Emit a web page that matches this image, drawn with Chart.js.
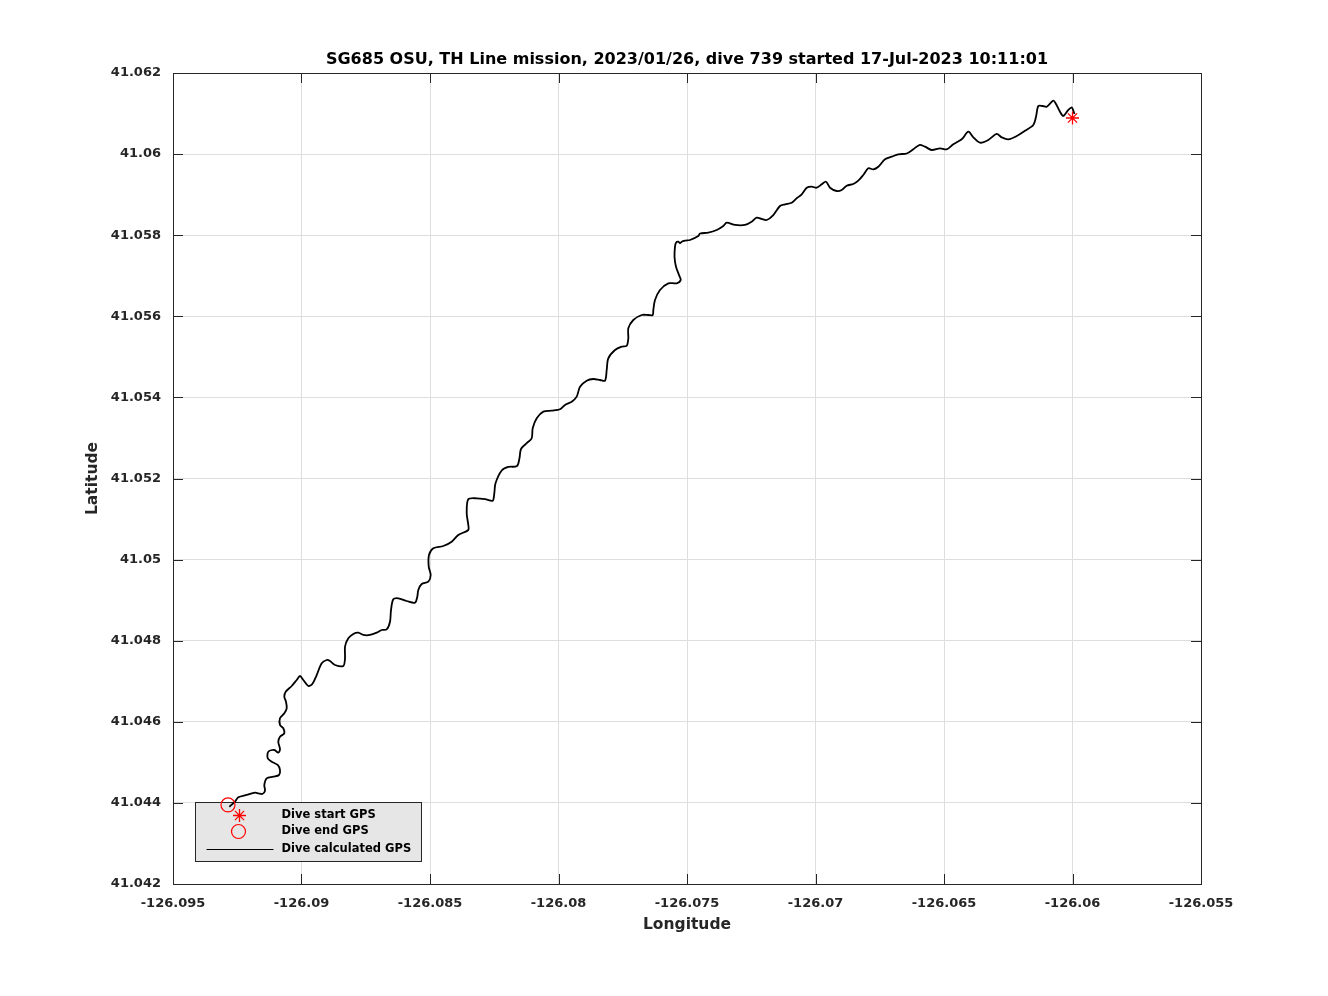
<!DOCTYPE html>
<html><head><meta charset="utf-8">
<script src="https://cdn.jsdelivr.net/npm/chart.js@4/dist/chart.umd.min.js"></script>
<style>html,body{margin:0;padding:0;background:#fff;}</style>
</head><body>
<canvas id="c" width="1328" height="996" style="display:block"></canvas>
<script>
const titleText = 'SG685 OSU, TH Line mission, 2023/01/26, dive 739 started 17-Jul-2023 10:11:01';
const xAxisTitle = 'Longitude';
const yAxisTitle = 'Latitude';
const xTickValues = [-126.095, -126.09, -126.085, -126.08, -126.075, -126.07, -126.065, -126.06, -126.055];
const xTickLabels = ['-126.095', '-126.09', '-126.085', '-126.08', '-126.075', '-126.07', '-126.065', '-126.06', '-126.055'];
const yTickValues = [41.042, 41.044, 41.046, 41.048, 41.05, 41.052, 41.054, 41.056, 41.058, 41.06, 41.062];
const yTickLabels = ['41.042', '41.044', '41.046', '41.048', '41.05', '41.052', '41.054', '41.056', '41.058', '41.06', '41.062'];
const legendLabels = ['Dive start GPS', 'Dive end GPS', 'Dive calculated GPS'];

const lonTrack = [
-126.092809,-126.092588,-126.092459,-126.092132,-126.091809,-126.091681,-126.091525,-126.091420,-126.091447,-126.091354,
-126.091097,-126.090875,-126.090837,-126.090926,-126.091160,-126.091315,-126.091292,-126.091058,-126.090903,-126.090837,
-126.090903,-126.090837,-126.090669,-126.090708,-126.090837,-126.090837,-126.090669,-126.090576,-126.090603,-126.090669,
-126.090615,-126.090381,-126.090187,-126.090058,-126.089930,-126.089735,-126.089580,-126.089409,-126.089214,-126.089019,
-126.088891,-126.088696,-126.088373,-126.088307,-126.088307,-126.088179,-126.087984,-126.087790,-126.087595,-126.087335,
-126.087074,-126.086879,-126.086685,-126.086556,-126.086517,-126.086428,-126.086233,-126.085907,-126.085584,-126.085494,
-126.085455,-126.085323,-126.085066,-126.084973,-126.085050,-126.085039,-126.084871,-126.084482,-126.084156,-126.083899,
-126.083510,-126.083510,-126.083572,-126.083510,-126.083183,-126.082821,-126.082560,-126.082498,-126.082451,-126.082210,
-126.081953,-126.081615,-126.081517,-126.081459,-126.081226,-126.081043,-126.081004,-126.080848,-126.080591,-126.080264,
-126.079941,-126.079747,-126.079486,-126.079292,-126.079163,-126.078903,-126.078646,-126.078385,-126.078190,-126.078124,
-126.078062,-126.077801,-126.077541,-126.077346,-126.077284,-126.077284,-126.077089,-126.076762,-126.076506,-126.076334,
-126.076311,-126.076245,-126.076050,-126.075727,-126.075400,-126.075245,-126.075311,-126.075428,-126.075486,-126.075467,
-126.075428,-126.075338,-126.075272,-126.075206,-126.075077,-126.074883,-126.074560,-126.074494,-126.074171,-126.073844,
-126.073587,-126.073455,-126.073132,-126.072743,-126.072482,-126.072288,-126.072093,-126.071898,-126.071642,-126.071381,
-126.071186,-126.070926,-126.070731,-126.070537,-126.070342,-126.070148,-126.069953,-126.069758,-126.069591,-126.069435,
-126.069175,-126.068980,-126.068786,-126.068529,-126.068334,-126.068140,-126.067945,-126.067751,-126.067556,-126.067295,
-126.067035,-126.066778,-126.066451,-126.066194,-126.065961,-126.065739,-126.065478,-126.065155,-126.064895,-126.064638,
-126.064311,-126.064054,-126.063860,-126.063599,-126.063276,-126.062949,-126.062754,-126.062498,-126.062171,-126.061848,
-126.061525,-126.061420,-126.061330,-126.061159,-126.061003,-126.060747,-126.060642,-126.060486,-126.060358,-126.060163,
-126.060031,-126.059968,-126.059922
];
const latTrack = [
41.043906,41.044030,41.044138,41.044195,41.044251,41.044237,41.044219,41.044301,41.044441,41.044607,
41.044646,41.044688,41.044811,41.044935,41.045016,41.045100,41.045263,41.045305,41.045238,41.045322,
41.045509,41.045632,41.045716,41.045840,41.045921,41.046086,41.046210,41.046333,41.046496,41.046619,
41.046742,41.046883,41.047031,41.047129,41.047031,41.046883,41.046932,41.047154,41.047443,41.047524,
41.047499,41.047401,41.047376,41.047566,41.047852,41.048059,41.048166,41.048198,41.048141,41.048141,
41.048198,41.048264,41.048281,41.048469,41.048757,41.049021,41.049046,41.048979,41.048937,41.049085,
41.049251,41.049399,41.049455,41.049620,41.049825,41.050114,41.050279,41.050336,41.050442,41.050607,
41.050730,41.050854,41.051142,41.051487,41.051512,41.051487,41.051453,41.051635,41.051882,41.052197,
41.052284,41.052308,41.052506,41.052728,41.052876,41.052992,41.053238,41.053485,41.053648,41.053672,
41.053707,41.053813,41.053894,41.054018,41.054264,41.054412,41.054454,41.054429,41.054412,41.054676,
41.054964,41.055169,41.055250,41.055275,41.055457,41.055704,41.055909,41.056032,41.056032,41.056032,
41.056155,41.056402,41.056649,41.056814,41.056814,41.056895,41.057019,41.057223,41.057470,41.057716,
41.057815,41.057840,41.057800,41.057840,41.057864,41.057882,41.057980,41.058042,41.058062,41.058128,
41.058227,41.058308,41.058252,41.058252,41.058333,41.058432,41.058400,41.058375,41.058498,41.058720,
41.058762,41.058801,41.058910,41.059009,41.059171,41.059196,41.059171,41.059255,41.059319,41.059171,
41.059090,41.059115,41.059221,41.059263,41.059344,41.059485,41.059650,41.059625,41.059689,41.059872,
41.059936,41.059995,41.060015,41.060118,41.060224,41.060183,41.060101,41.060143,41.060118,41.060242,
41.060365,41.060552,41.060414,41.060281,41.060348,41.060496,41.060414,41.060365,41.060446,41.060577,
41.060718,41.060922,41.061186,41.061186,41.061169,41.061317,41.061236,41.061046,41.060940,41.061088,
41.061154,41.061070,41.060989
];
const startLon = [-126.06];
const startLat = [41.06089];
const endLon = [-126.09286];
const endLat = [41.04395];

const FONT = 'DejaVu Sans';
const AX = '#262626';
const RED = '#ff0000';

const trackPts = lonTrack.map((x, i) => ({x: x, y: latTrack[i]}));
const startPts = startLon.map((x, i) => ({x: x, y: startLat[i]}));
const endPts = endLon.map((x, i) => ({x: x, y: endLat[i]}));

function drawStar(ctx, cx, cy, r) {
  ctx.beginPath();
  for (let k = 0; k < 4; k++) {
    const ang = k * Math.PI / 4;
    const dx = Math.cos(ang) * r, dy = Math.sin(ang) * r;
    ctx.moveTo(cx - dx, cy - dy); ctx.lineTo(cx + dx, cy + dy);
  }
  ctx.stroke();
}

const boxPlugin = {
  id: 'matlabBox',
  beforeDatasetsDraw(chart) {
    const {ctx, chartArea: a} = chart;
    ctx.save();
    const lx = a.left + 22.5, ly = a.bottom - 81.5, lw = 226, lh = 59;
    ctx.fillStyle = '#e6e6e6';
    ctx.fillRect(lx, ly, lw, lh);
    ctx.strokeStyle = AX; ctx.lineWidth = 1;
    ctx.strokeRect(lx, ly, lw, lh);
    const mx = lx + 44;
    const rows = [ly + 12.5, ly + 29, ly + 47];
    ctx.strokeStyle = RED; ctx.lineWidth = 1.3;
    drawStar(ctx, mx, rows[0] + 0.5, 6.5);
    ctx.lineWidth = 1.2;
    ctx.beginPath(); ctx.arc(mx - 1, rows[1], 7, 0, Math.PI * 2); ctx.stroke();
    ctx.strokeStyle = '#000'; ctx.lineWidth = 1;
    ctx.beginPath(); ctx.moveTo(lx + 11, rows[2]); ctx.lineTo(lx + 78, rows[2]); ctx.stroke();
    ctx.fillStyle = '#000';
    ctx.font = 'bold 11.5px "' + FONT + '"';
    ctx.textAlign = 'left'; ctx.textBaseline = 'middle';
    legendLabels.forEach((t, i) => ctx.fillText(t, lx + 86, rows[i]));
    ctx.restore();
  },
  afterDatasetsDraw(chart) {
    const {ctx, chartArea: a, scales: {x, y}} = chart;
    ctx.save();
    ctx.strokeStyle = AX; ctx.lineWidth = 1;
    ctx.beginPath();
    const L = 10;
    xTickValues.forEach(v => {
      const px = Math.round(x.getPixelForValue(v)) + 0.5;
      ctx.moveTo(px, a.bottom); ctx.lineTo(px, a.bottom - L);
      ctx.moveTo(px, a.top); ctx.lineTo(px, a.top + L);
    });
    yTickValues.forEach(v => {
      const py = Math.round(y.getPixelForValue(v)) + 0.5;
      ctx.moveTo(a.left, py); ctx.lineTo(a.left + L, py);
      ctx.moveTo(a.right, py); ctx.lineTo(a.right - L, py);
    });
    ctx.stroke();
    ctx.strokeRect(Math.round(a.left) + 0.5, Math.round(a.top) + 0.5, Math.round(a.right - a.left), Math.round(a.bottom - a.top));
    ctx.strokeStyle = RED; ctx.lineWidth = 1.3;
    startPts.forEach(p => drawStar(ctx, x.getPixelForValue(p.x), y.getPixelForValue(p.y), 6.5));
    ctx.lineWidth = 1.2;
    endPts.forEach(p => { ctx.beginPath(); ctx.arc(x.getPixelForValue(p.x), y.getPixelForValue(p.y), 7, 0, Math.PI * 2); ctx.stroke(); });
    ctx.fillStyle = '#000';
    ctx.font = 'bold 16px "' + FONT + '"';
    ctx.textAlign = 'center'; ctx.textBaseline = 'middle';
    ctx.fillText(titleText, (a.left + a.right) / 2, a.top - 13.5);
    ctx.restore();
  }
};

new Chart(document.getElementById('c'), {
  type: 'scatter',
  data: {
    datasets: [
      {label: legendLabels[2], data: trackPts, showLine: true, borderColor: '#000', borderWidth: 1.8,
       pointRadius: 0, tension: 0.3, fill: false, order: 3},
      {label: legendLabels[0], data: startPts, pointRadius: 0, showLine: false, borderColor: RED, order: 1},
      {label: legendLabels[1], data: endPts, pointRadius: 0, showLine: false, borderColor: RED, order: 2}
    ]
  },
  options: {
    responsive: false, animation: false, devicePixelRatio: 1,
    layout: {padding: {left: 0, right: 127, top: 73, bottom: 0}},
    plugins: {legend: {display: false}, title: {display: false}, tooltip: {enabled: false}},
    scales: {
      x: {
        type: 'linear', min: -126.095, max: -126.055,
        afterFit(s) { s.height = 112; },
        afterBuildTicks(s) { s.ticks = xTickValues.map(v => ({value: v})); },
        grid: {color: '#dedede', lineWidth: 1, drawTicks: false},
        border: {display: false},
        ticks: {color: AX, font: {family: FONT, size: 13, weight: 'bold'}, padding: 12, maxRotation: 0,
          callback: (v, i) => xTickLabels[i]},
        title: {display: true, text: xAxisTitle, color: AX, font: {family: FONT, size: 15.5, weight: 'bold'},
          padding: {top: 0, bottom: 62}}
      },
      y: {
        type: 'linear', min: 41.042, max: 41.062,
        afterFit(s) { s.width = 173; },
        afterBuildTicks(s) { s.ticks = yTickValues.map(v => ({value: v})); },
        grid: {color: '#dedede', lineWidth: 1, drawTicks: false},
        border: {display: false},
        ticks: {color: AX, font: {family: FONT, size: 13, weight: 'bold'}, padding: 12,
          callback: (v, i) => yTickLabels[i]},
        title: {display: true, text: yAxisTitle, color: AX, font: {family: FONT, size: 15.5, weight: 'bold'},
          padding: {top: 84, bottom: 0}}
      }
    }
  },
  plugins: [boxPlugin]
});
</script>
</body></html>
